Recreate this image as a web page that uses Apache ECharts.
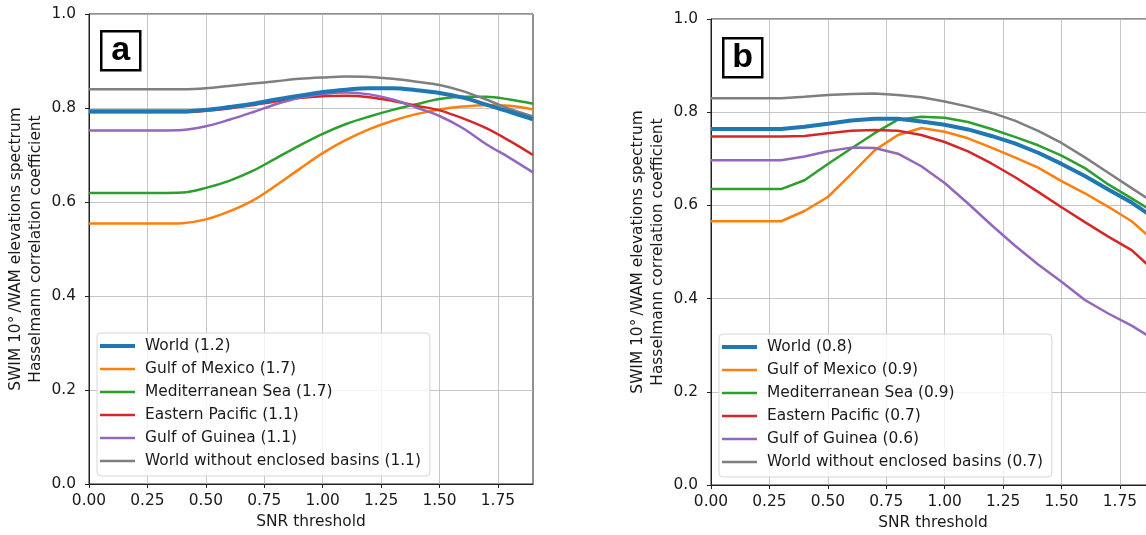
<!DOCTYPE html>
<html>
<head>
<meta charset="utf-8">
<script src="https://cdn.jsdelivr.net/npm/echarts@6/dist/echarts.min.js"></script>
<style>
html,body{margin:0;padding:0;background:#fff;}
#c{width:1146px;height:535px;}
</style>
</head>
<body>
<div id="c"></div>
<script>
// ---- data ----
const snr = [0.0,0.1,0.2,0.3,0.4,0.5,0.6,0.7,0.8,0.9,1.0,1.1,1.2,1.3,1.4,1.5,1.6,1.7,1.8,1.9];

const namesA = ['World (1.2)','Gulf of Mexico (1.7)','Mediterranean Sea (1.7)','Eastern Pacific (1.1)','Gulf of Guinea (1.1)','World without enclosed basins (1.1)'];
const namesB = ['World (0.8)','Gulf of Mexico (0.9)','Mediterranean Sea (0.9)','Eastern Pacific (0.7)','Gulf of Guinea (0.6)','World without enclosed basins (0.7)'];

// Panel a
const worldA   = [0.793,0.793,0.793,0.793,0.793,0.796,0.802,0.809,0.818,0.826,0.834,0.839,0.842,0.842,0.838,0.832,0.822,0.807,0.792,0.776];
const mexicoA  = [0.554,0.554,0.554,0.554,0.555,0.563,0.580,0.603,0.635,0.670,0.704,0.732,0.755,0.773,0.787,0.797,0.803,0.806,0.805,0.797];
const medA     = [0.619,0.619,0.619,0.619,0.620,0.630,0.645,0.666,0.693,0.720,0.745,0.766,0.782,0.796,0.808,0.819,0.824,0.824,0.818,0.809];
const pacificA = [0.791,0.791,0.791,0.791,0.791,0.794,0.799,0.806,0.814,0.821,0.825,0.826,0.823,0.815,0.805,0.795,0.778,0.757,0.730,0.700];
const guineaA  = [0.752,0.752,0.752,0.752,0.753,0.761,0.775,0.791,0.808,0.822,0.830,0.833,0.829,0.818,0.801,0.783,0.757,0.723,0.694,0.663];
const noEnclA  = [0.840,0.840,0.840,0.840,0.840,0.842,0.847,0.852,0.857,0.862,0.865,0.867,0.866,0.862,0.856,0.849,0.836,0.818,0.798,0.782];

// Panel b
const worldB   = [0.764,0.764,0.764,0.764,0.769,0.775,0.782,0.786,0.786,0.780,0.773,0.763,0.749,0.733,0.713,0.689,0.663,0.634,0.606,0.572];
const mexicoB  = [0.566,0.566,0.566,0.566,0.588,0.618,0.667,0.718,0.751,0.766,0.758,0.744,0.724,0.703,0.681,0.652,0.626,0.597,0.566,0.522];
const medB     = [0.635,0.635,0.635,0.635,0.654,0.689,0.722,0.755,0.784,0.790,0.788,0.779,0.764,0.747,0.729,0.707,0.680,0.645,0.615,0.584];
const pacificB = [0.748,0.748,0.748,0.748,0.749,0.755,0.760,0.762,0.760,0.751,0.736,0.716,0.690,0.661,0.629,0.596,0.564,0.533,0.504,0.458];
const guineaB  = [0.697,0.697,0.697,0.697,0.705,0.716,0.724,0.723,0.711,0.684,0.648,0.604,0.558,0.514,0.473,0.436,0.397,0.368,0.342,0.311];
const noEnclB  = [0.830,0.830,0.830,0.830,0.833,0.837,0.839,0.840,0.837,0.832,0.823,0.812,0.799,0.782,0.760,0.734,0.703,0.670,0.637,0.604];

const xTicks = [0.00,0.25,0.50,0.75,1.00,1.25,1.50,1.75];
const yTicks = [0.0,0.2,0.4,0.6,0.8,1.0];

const colors = ['#1f77b4','#ff7f0e','#2ca02c','#d62728','#9467bd','#7f7f7f'];
const widths = [4,2.5,2.5,2.5,2.5,2.5];

const FONT = 'DejaVu Sans';
const FS = 15.4;
const yName = 'SWIM 10\u00b0\u2009/WAM elevations spectrum\nHasselmann correlation coefficient';

function pairs(arr){ return snr.map((x,i)=>[x,arr[i]]); }
function isTick(v, list){ return list.some(t => Math.abs(t - v) < 1e-6); }

function xAxisDef(gi){
  return {
    type:'value', gridIndex:gi, min:0, max:1.9, interval:0.25,
    name:'SNR threshold', nameLocation:'middle', nameGap:30,
    nameTextStyle:{fontFamily:FONT, fontSize:FS, color:'#1a1a1a'},
    axisLine:{show:true, lineStyle:{color:'#222', width:1}},
    axisTick:{show:true, inside:false, length:4, customValues:xTicks, lineStyle:{color:'#222', width:1}},
    axisLabel:{fontFamily:FONT, fontSize:FS, color:'#1a1a1a', margin:9, customValues:xTicks,
      formatter: v => isTick(v, xTicks) ? v.toFixed(2) : ''},
    splitLine:{show:true, lineStyle:{color:'#b8b8b8', width:0.8}}
  };
}
function yAxisDef(gi){
  return {
    type:'value', gridIndex:gi, min:0, max:1, interval:0.2,
    name:yName, nameLocation:'middle', nameRotate:90, nameGap:43,
    nameTextStyle:{fontFamily:FONT, fontSize:FS, color:'#1a1a1a', lineHeight:20, align:'center'},
    axisLine:{show:true, lineStyle:{color:'#222', width:1}},
    axisTick:{show:true, inside:false, length:4, lineStyle:{color:'#222', width:1}},
    axisLabel:{fontFamily:FONT, fontSize:FS, color:'#1a1a1a', margin:13,
      formatter: v => isTick(v, yTicks) ? v.toFixed(1) : ''},
    splitLine:{show:true, lineStyle:{color:'#b8b8b8', width:0.8}}
  };
}

const seriesA = [worldA, mexicoA, medA, pacificA, guineaA, noEnclA];
const seriesB = [worldB, mexicoB, medB, pacificB, guineaB, noEnclB];

const series = [];
function addSeries(list, names, gi, smooth){
  list.forEach((arr, i) => {
    series.push({
      name: names[i], type:'line', xAxisIndex:gi, yAxisIndex:gi,
      data: pairs(arr), symbol:'none', showSymbol:false, smooth: smooth,
      lineStyle:{color:colors[i], width:widths[i]},
      itemStyle:{color:colors[i]},
      z: i === 0 ? 5 : 3
    });
  });
}
addSeries(seriesA, namesA, 0, 0.35);
addSeries(seriesB, namesB, 1, false);

function legendDef(names, left, bottom){
  return {
    data: names.map((n, i) => ({name:n, icon:'path://M0,0h35v' + widths[i] + 'h-35z'})),
    orient:'vertical', left:left, bottom:bottom,
    itemWidth:35, itemHeight:14, itemGap:7,
    padding:[5,9,7,3],
    backgroundColor:'rgba(255,255,255,0.8)', borderColor:'#d6d6d6', borderWidth:1, borderRadius:4,
    textStyle:{fontFamily:FONT, fontSize:FS, color:'#1a1a1a', lineHeight:16, padding:[0,0,0,5]},
    selectedMode:false
  };
}

function labelBox(txt, x, y){
  return {
    type:'group', left:x, top:y,
    children:[
      {type:'rect', shape:{x:0,y:0,width:39,height:39}, style:{fill:'#fff', stroke:'#000', lineWidth:2.5}},
      {type:'text', x:19.5, y:19, style:{text:txt, font:'bold 34px "Liberation Sans"', fill:'#000', textAlign:'center', textVerticalAlign:'middle'}}
    ]
  };
}

const option = {
  animation:false,
  backgroundColor:'#fff',
  grid:[
    {left:89, top:14, width:444, height:470, show:true, borderColor:'#222', borderWidth:1, backgroundColor:'transparent', outerBoundsMode:'none', containLabel:false},
    {left:711, top:19, width:444, height:466, show:true, borderColor:'#222', borderWidth:1, backgroundColor:'transparent', outerBoundsMode:'none', containLabel:false}
  ],
  xAxis:[xAxisDef(0), xAxisDef(1)],
  yAxis:[yAxisDef(0), yAxisDef(1)],
  legend:[legendDef(namesA, 97, 59), legendDef(namesB, 719, 58)],
  series: series,
  graphic:[labelBox('a', 100, 30), labelBox('b', 722, 37)]
};

const chart = echarts.init(document.getElementById('c'), null, {renderer:'canvas'});
chart.setOption(option);
</script>
</body>
</html>
